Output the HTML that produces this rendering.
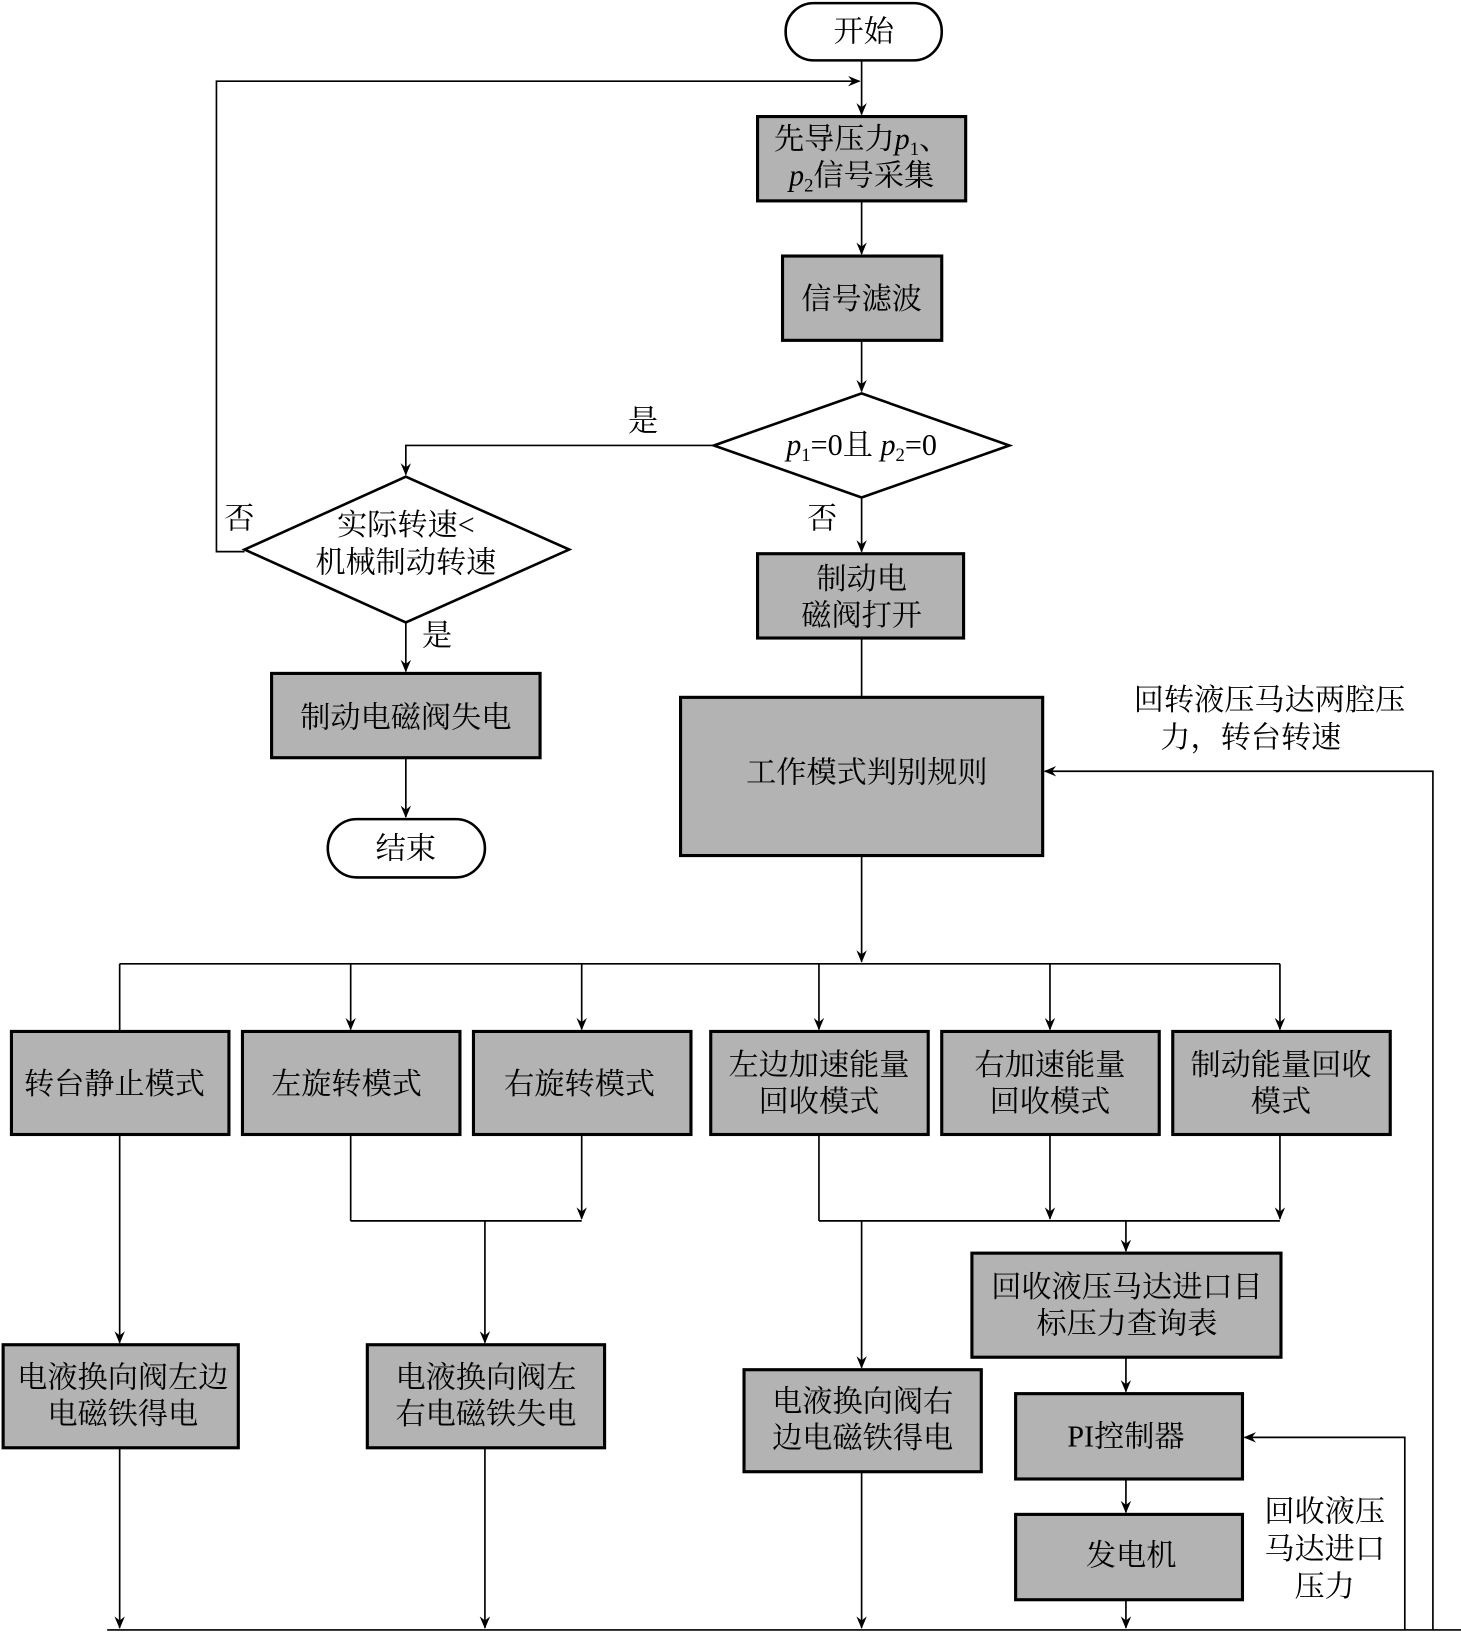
<!DOCTYPE html>
<html><head><meta charset="utf-8"><style>
html,body{margin:0;padding:0;background:#fff}
svg{display:block}
text{font-family:"Liberation Serif","Noto Serif CJK SC",serif;font-size:29px;fill:#000;text-anchor:middle}
.b{fill:#b3b3b3;stroke:#000;stroke-width:3}
.l{stroke:#000;stroke-width:1.6;fill:none}
.w{fill:#fff;stroke:#000;stroke-width:2.5}
</style></head><body>
<svg width="1461" height="1632" viewBox="0 0 1404 1568" preserveAspectRatio="none" xmlns="http://www.w3.org/2000/svg">
<defs><marker id="a" markerWidth="12" markerHeight="10" refX="11" refY="5" orient="auto" markerUnits="userSpaceOnUse"><path d="M0,0 L12,5 L0,10 L4,5 Z" fill="#000"/></marker></defs>
<rect class="w" x="755" y="3" width="150" height="55" rx="27"/>
<text x="830" y="40">开始</text>
<line class="l" x1="828" y1="58" x2="828" y2="110" marker-end="url(#a)"/>
<polyline class="l" points="235,530 208,530 208,78 826,78" marker-end="url(#a)"/>
<rect class="b" x="728" y="112" width="200" height="81"/>
<text x="828" y="143">先导压力<tspan font-style="italic">p</tspan><tspan font-size="18" dy="6">1</tspan><tspan dy="-6">、</tspan></text>
<text x="828" y="178"><tspan font-style="italic">p</tspan><tspan font-size="18" dy="6">2</tspan><tspan dy="-6">信号采集</tspan></text>
<line class="l" x1="828" y1="193" x2="828" y2="244" marker-end="url(#a)"/>
<rect class="b" x="752" y="246" width="153" height="81"/>
<text x="828" y="297">信号滤波</text>
<line class="l" x1="828" y1="327" x2="828" y2="376" marker-end="url(#a)"/>
<polygon class="w" points="686,428 828,378 970,428 828,478"/>
<text x="828" y="437"><tspan font-style="italic">p</tspan><tspan font-size="18" dy="6">1</tspan><tspan dy="-6">=0且 </tspan><tspan font-style="italic">p</tspan><tspan font-size="18" dy="6">2</tspan><tspan dy="-6">=0</tspan></text>
<polyline class="l" points="686,428 390,428 390,456" marker-end="url(#a)"/>
<text x="618" y="414">是</text>
<polygon class="w" points="235,528 390,458 547,528 390,598"/>
<text x="390" y="514">实际转速&lt;</text>
<text x="390" y="550">机械制动转速</text>
<text x="230" y="508">否</text>
<text x="420" y="620">是</text>
<line class="l" x1="390" y1="598" x2="390" y2="645" marker-end="url(#a)"/>
<rect class="b" x="261" y="647" width="258" height="81"/>
<text x="390" y="699">制动电磁阀失电</text>
<line class="l" x1="390" y1="728" x2="390" y2="785" marker-end="url(#a)"/>
<rect class="w" x="315" y="787" width="151" height="56" rx="28"/>
<text x="390" y="825">结束</text>
<text x="790" y="508">否</text>
<line class="l" x1="828" y1="478" x2="828" y2="530" marker-end="url(#a)"/>
<rect class="b" x="728" y="532" width="198" height="81"/>
<text x="828" y="566">制动电</text>
<text x="828" y="601">磁阀打开</text>
<line class="l" x1="828" y1="613" x2="828" y2="670"/>
<rect class="b" x="654" y="670" width="348" height="152"/>
<text x="833" y="752">工作模式判别规则</text>
<polyline class="l" points="1377,1566 1377,741 1004,741" marker-end="url(#a)"/>
<text x="1220" y="682">回转液压马达两腔压</text>
<text x="1202" y="718">力，转台转速</text>
<line class="l" x1="828" y1="822" x2="828" y2="924" marker-end="url(#a)"/>
<line class="l" x1="115" y1="926" x2="1230" y2="926"/>
<line class="l" x1="115" y1="926" x2="115" y2="991"/>
<line class="l" x1="337" y1="926" x2="337" y2="989" marker-end="url(#a)"/>
<line class="l" x1="559" y1="926" x2="559" y2="989" marker-end="url(#a)"/>
<line class="l" x1="787" y1="926" x2="787" y2="989" marker-end="url(#a)"/>
<line class="l" x1="1009" y1="926" x2="1009" y2="989" marker-end="url(#a)"/>
<line class="l" x1="1230" y1="926" x2="1230" y2="989" marker-end="url(#a)"/>
<rect class="b" x="11" y="991" width="209" height="99"/><text x="110" y="1051">转台静止模式</text>
<rect class="b" x="233" y="991" width="209" height="99"/><text x="333" y="1051">左旋转模式</text>
<rect class="b" x="455" y="991" width="209" height="99"/><text x="557" y="1051">右旋转模式</text>
<rect class="b" x="683" y="991" width="209" height="99"/><text x="787" y="1033">左边加速能量</text><text x="787" y="1068">回收模式</text>
<rect class="b" x="905" y="991" width="209" height="99"/><text x="1009" y="1033">右加速能量</text><text x="1009" y="1068">回收模式</text>
<rect class="b" x="1127" y="991" width="209" height="99"/><text x="1231" y="1033">制动能量回收</text><text x="1231" y="1068">模式</text>
<line class="l" x1="337" y1="1090" x2="337" y2="1173"/>
<line class="l" x1="559" y1="1090" x2="559" y2="1171" marker-end="url(#a)"/>
<line class="l" x1="337" y1="1173" x2="559" y2="1173"/>
<line class="l" x1="466" y1="1173" x2="466" y2="1290" marker-end="url(#a)"/>
<line class="l" x1="787" y1="1090" x2="787" y2="1173"/>
<line class="l" x1="1009" y1="1090" x2="1009" y2="1171" marker-end="url(#a)"/>
<line class="l" x1="1230" y1="1090" x2="1230" y2="1171" marker-end="url(#a)"/>
<line class="l" x1="787" y1="1173" x2="1230" y2="1173"/>
<line class="l" x1="828" y1="1173" x2="828" y2="1314" marker-end="url(#a)"/>
<line class="l" x1="1082" y1="1173" x2="1082" y2="1202" marker-end="url(#a)"/>
<line class="l" x1="115" y1="1090" x2="115" y2="1290" marker-end="url(#a)"/>
<rect class="b" x="3" y="1292" width="226" height="99"/><text x="118" y="1333">电液换向阀左边</text><text x="118" y="1368">电磁铁得电</text>
<rect class="b" x="353" y="1292" width="228" height="99"/><text x="467" y="1333">电液换向阀左</text><text x="467" y="1368">右电磁铁失电</text>
<rect class="b" x="715" y="1316" width="228" height="98"/><text x="829" y="1356">电液换向阀右</text><text x="829" y="1391">边电磁铁得电</text>
<rect class="b" x="934" y="1204" width="297" height="100"/><text x="1083" y="1246">回收液压马达进口目</text><text x="1083" y="1281">标压力查询表</text>
<line class="l" x1="1082" y1="1304" x2="1082" y2="1337" marker-end="url(#a)"/>
<rect class="b" x="976" y="1339" width="218" height="82"/><text x="1082" y="1390">PI控制器</text>
<line class="l" x1="1082" y1="1421" x2="1082" y2="1453" marker-end="url(#a)"/>
<rect class="b" x="976" y="1455" width="218" height="82"/><text x="1087" y="1504">发电机</text>
<polyline class="l" points="1350,1566 1350,1381 1196,1381" marker-end="url(#a)"/>
<text x="1273" y="1462">回收液压</text><text x="1273" y="1498">马达进口</text><text x="1273" y="1534">压力</text>
<line class="l" x1="103" y1="1566" x2="1404" y2="1566"/>
<line class="l" x1="115" y1="1391" x2="115" y2="1564" marker-end="url(#a)"/>
<line class="l" x1="466" y1="1391" x2="466" y2="1564" marker-end="url(#a)"/>
<line class="l" x1="828" y1="1414" x2="828" y2="1564" marker-end="url(#a)"/>
<line class="l" x1="1082" y1="1537" x2="1082" y2="1564" marker-end="url(#a)"/>
</svg>
</body></html>
